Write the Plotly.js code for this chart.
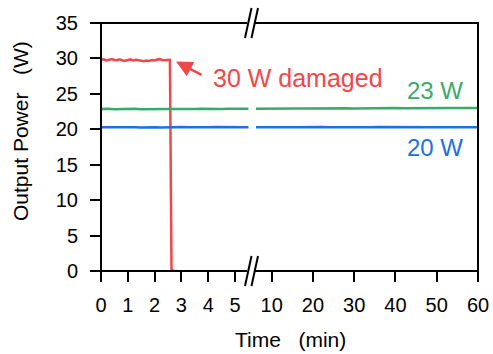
<!DOCTYPE html>
<html><head><meta charset="utf-8">
<script src="https://cdn.plot.ly/plotly-3.0.1.min.js"></script>
<style>html,body{margin:0;padding:0;background:#fff}#c{width:493px;height:354px}</style>
</head><body><div id="c"></div>
<script>
// Left segment (0–5.5 min)
const redT   = [0,0.1,0.2,0.3,0.4,0.5,0.6,0.7,0.8,0.9,1.0,1.1,1.2,1.3,1.4,1.5,1.6,1.7,1.8,1.9,2.0,2.1,2.2,2.3,2.4,2.5,2.57,2.63,2.7,2.84];
const redP   = [29.8,29.88,29.72,29.82,29.92,29.78,29.74,29.88,29.72,29.68,29.82,29.86,29.7,29.8,29.74,29.66,29.62,29.7,29.64,29.76,29.7,29.84,29.9,29.74,29.8,29.84,29.8,0.2,0,0];
const leftT  = [0,0.25,0.5,0.75,1.0,1.25,1.5,1.75,2.0,2.25,2.5,2.75,3.0,3.25,3.5,3.75,4.0,4.25,4.5,4.75,5.0,5.25,5.5];
const greenL = [22.85,22.9,22.82,22.88,22.86,22.9,22.84,22.87,22.9,22.85,22.88,22.86,22.9,22.84,22.88,22.9,22.86,22.89,22.85,22.9,22.87,22.88,22.9];
const blueL  = [20.28,20.3,20.25,20.32,20.27,20.3,20.26,20.31,20.28,20.25,20.3,20.27,20.32,20.28,20.26,20.3,20.27,20.31,20.28,20.25,20.3,20.28,20.3];
// Right segment (after break, up to 60 min)
const rightT = [6.2,8,10,12,14,16,18,20,22,24,26,28,30,32,34,36,38,40,42,44,46,48,50,52,54,56,58,60];
const greenR = [22.9,22.92,22.88,22.93,22.9,22.94,22.92,22.95,22.93,22.96,22.94,22.97,22.95,22.98,22.96,22.99,22.97,23.0,22.98,23.0,22.99,23.01,23.0,22.99,23.02,23.0,23.01,23.0];
const blueR  = [20.3,20.32,20.28,20.33,20.3,20.27,20.32,20.29,20.33,20.3,20.28,20.32,20.29,20.31,20.27,20.32,20.3,20.28,20.33,20.29,20.31,20.28,20.3,20.32,20.29,20.31,20.28,20.3];
const leftTicks  = [0,1,2,3,4,5];
const rightTicks = [10,20,30,40,50,60];
const yTicks = [0,5,10,15,20,25,30,35];

const RED='#f04848', GREEN='#38ab68', BLUE='#1f6fe0';
const FONT='Liberation Sans, Arial, sans-serif';
const lw=2.5;

const traces=[
 {x:redT,y:redP,xaxis:'x',yaxis:'y',mode:'lines',line:{color:RED,width:lw}},
 {x:leftT,y:greenL,xaxis:'x',yaxis:'y',mode:'lines',line:{color:GREEN,width:lw}},
 {x:leftT,y:blueL,xaxis:'x',yaxis:'y',mode:'lines',line:{color:BLUE,width:lw}},
 {x:rightT,y:greenR,xaxis:'x2',yaxis:'y',mode:'lines',line:{color:GREEN,width:lw}},
 {x:rightT,y:blueR,xaxis:'x2',yaxis:'y',mode:'lines',line:{color:BLUE,width:lw}}
];

// Frame geometry in pixels (plot area 101..478 x 23..271)
const L=101,R=478,T=23,B=271,W=R-L,H=B-T;
const px=v=>(v-L)/W, py=v=>(B-v)/H;
function brk(yc){
  return [
   {type:'path',xref:'paper',yref:'paper',
    path:`M ${px(246.5)} ${py(yc+3)} L ${px(254.5)} ${py(yc+3)} L ${px(255.5)} ${py(yc-3)} L ${px(247.5)} ${py(yc-3)} Z`,
    fillcolor:'#fff',line:{width:0}},
   {type:'line',xref:'paper',yref:'paper',x0:px(245),y0:py(yc+15),x1:px(251.5),y1:py(yc-15),line:{color:'#000',width:2}},
   {type:'line',xref:'paper',yref:'paper',x0:px(251.5),y0:py(yc+15),x1:px(258),y1:py(yc-15),line:{color:'#000',width:2}}
  ];
}
const shapes=[
 {type:'rect',xref:'paper',yref:'paper',x0:0,y0:0,x1:1,y1:1,line:{color:'#000',width:2}},
 ...brk(23),...brk(271)
];

const axBase={ticks:'outside',ticklen:10,tickwidth:2,tickcolor:'#000',showline:false,zeroline:false,showgrid:false,
  tickfont:{family:FONT,size:20,color:'#000'},anchor:'y',fixedrange:true};

const layout={
 width:493,height:354,margin:{l:101,r:15,t:23,b:83},
 paper_bgcolor:'#fff',plot_bgcolor:'#fff',showlegend:false,
 xaxis:Object.assign({},axBase,{domain:[0,(249-101)/377],range:[0,5.52],tickmode:'array',tickvals:leftTicks,ticklabelstandoff:6}),
 xaxis2:Object.assign({},axBase,{domain:[(256-101)/377,1],range:[6.2,60],tickmode:'array',tickvals:rightTicks,ticklabelstandoff:6}),
 yaxis:Object.assign({},axBase,{anchor:'x',range:[0,35],tickmode:'array',tickvals:yTicks,ticklabelstandoff:8}),
 shapes:shapes,
 annotations:[
  {xref:'paper',yref:'paper',x:0,y:py(131),xshift:20-101,xanchor:'center',yanchor:'middle',textangle:-90,showarrow:false,
   text:'Output Power\u00a0\u00a0\u00a0(W)',font:{family:FONT,size:21,color:'#000'}},
  {xref:'paper',yref:'paper',x:0.5,y:0,yshift:-55,xanchor:'center',yanchor:'top',showarrow:false,
   text:'Time\u00a0\u00a0\u00a0(min)',font:{family:FONT,size:21,color:'#000'},xshift:(290-(101+377/2))},
  {xref:'x',yref:'y',x:2.8,y:29.55,ax:27,ay:14,text:'',showarrow:true,arrowhead:2,arrowsize:1.3,arrowwidth:2.5,arrowcolor:RED,standoff:0},
  {xref:'x',yref:'y',x:4.1,y:27.3,xanchor:'left',yanchor:'middle',showarrow:false,text:'30 W damaged',font:{family:FONT,size:25,color:RED}},
  {xref:'x2',yref:'y',x:56.8,y:25.5,xanchor:'right',yanchor:'middle',showarrow:false,text:'23 W',font:{family:FONT,size:24,color:GREEN}},
  {xref:'x2',yref:'y',x:56.8,y:17.4,xanchor:'right',yanchor:'middle',showarrow:false,text:'20 W',font:{family:FONT,size:24,color:BLUE}}
 ]
};
Plotly.newPlot('c',traces,layout,{staticPlot:true,displayModeBar:false});
</script></body></html>
